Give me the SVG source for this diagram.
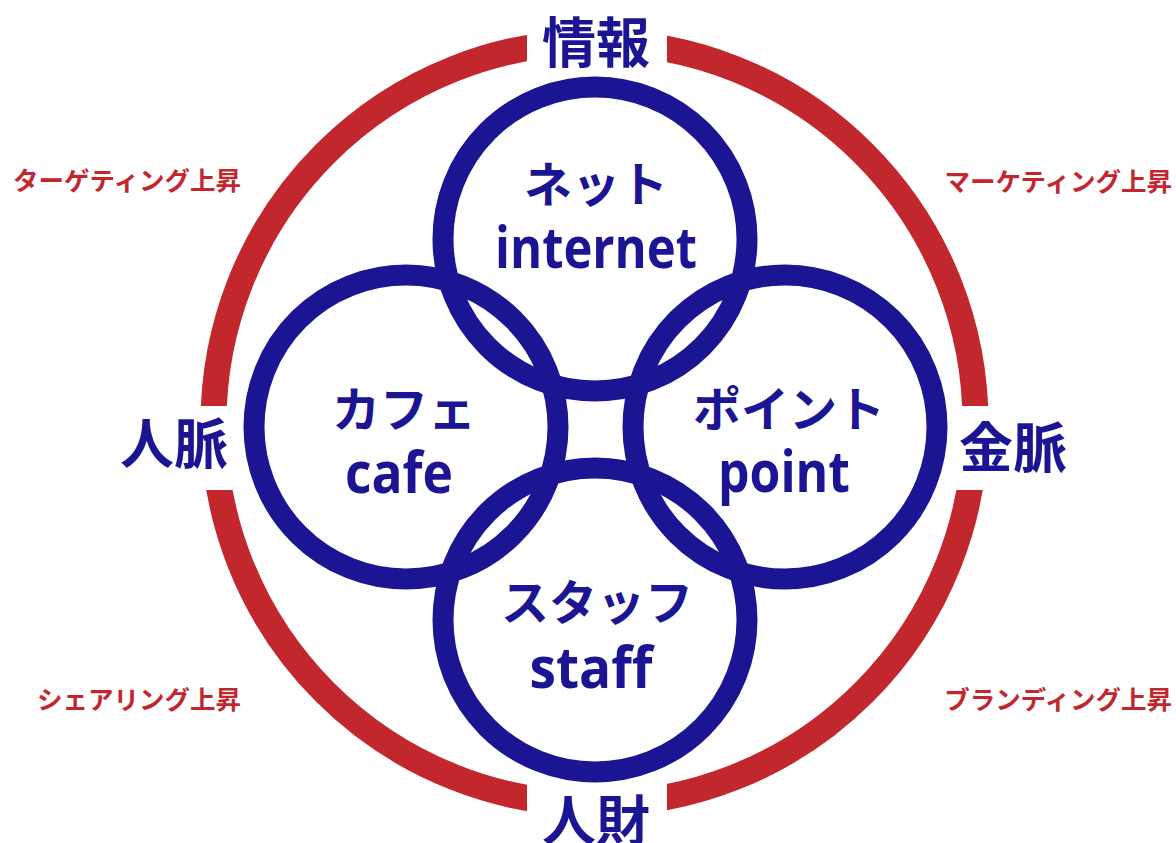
<svg xmlns="http://www.w3.org/2000/svg" width="1176" height="843" viewBox="0 0 1176 843">
<style>
.ring{fill:none;stroke:#1b1593;stroke-width:21}
.big{font-family:"Noto Sans CJK JP","Noto Sans",sans-serif;font-weight:700;fill:#1b1593;text-anchor:middle;dominant-baseline:central}
.kana{font-family:"Noto Sans CJK JP","Noto Sans",sans-serif;font-weight:700;font-size:48px;fill:#1b1593;text-anchor:middle;dominant-baseline:central}
.en{font-family:"Open Sans","Noto Sans",sans-serif;font-weight:700;font-size:58px;fill:#1b1593;text-anchor:middle}
.red{font-family:"Noto Sans CJK JP","Noto Sans",sans-serif;font-weight:700;font-size:25.5px;fill:#c1272d;dominant-baseline:central}
</style>
<defs>
<mask id="gaps" maskUnits="userSpaceOnUse" x="0" y="0" width="1176" height="843">
<rect x="0" y="0" width="1176" height="843" fill="#fff"/>
<rect x="527" y="0" width="140" height="90" fill="#000"/>
<rect x="527" y="760" width="140" height="83" fill="#000"/>
<rect x="150" y="406" width="110" height="84" fill="#000"/>
<rect x="930" y="406" width="110" height="84" fill="#000"/>
</mask>
</defs>
<rect width="1176" height="843" fill="#fff"/>
<g id="outer-ring">
<circle cx="594.5" cy="423" r="381" fill="none" stroke="#c1272d" stroke-width="26" mask="url(#gaps)"/>
</g>
<g id="node-internet">
<circle class="ring" cx="595" cy="239" r="152"/>
<text class="kana" x="596" y="181">ネット</text>
<text class="en" x="596" y="268" textLength="202" lengthAdjust="spacingAndGlyphs">internet</text>
</g>
<g id="node-cafe">
<circle class="ring" cx="406" cy="427" r="152"/>
<text class="kana" x="404" y="406">カフェ</text>
<text class="en" x="399" y="493" textLength="108" lengthAdjust="spacingAndGlyphs">cafe</text>
</g>
<g id="node-point">
<circle class="ring" cx="785" cy="427" r="152"/>
<text class="kana" x="789" y="406">ポイント</text>
<text class="en" x="784" y="492" textLength="132" lengthAdjust="spacingAndGlyphs">point</text>
</g>
<g id="node-staff">
<circle class="ring" cx="595" cy="620" r="152"/>
<text class="kana" x="597" y="599">スタッフ</text>
<text class="en" x="591" y="688" textLength="123" lengthAdjust="spacingAndGlyphs">staff</text>
</g>
<g id="label-joho"><text class="big" font-size="54" x="596" y="39">情報</text></g>
<g id="label-jinmyaku"><text class="big" font-size="54" x="174" y="440">人脈</text></g>
<g id="label-kinmyaku"><text class="big" font-size="54" x="1013" y="444">金脈</text></g>
<g id="label-jinzai"><text class="big" font-size="54" x="596" y="817">人財</text></g>
<g id="side-labels">
<text class="red" x="241" y="178" text-anchor="end">ターゲティング上昇</text>
<text class="red" x="1172" y="179" text-anchor="end">マーケティング上昇</text>
<text class="red" x="241" y="697" text-anchor="end">シェアリング上昇</text>
<text class="red" x="1172" y="697" text-anchor="end">ブランディング上昇</text>
</g>
</svg>
